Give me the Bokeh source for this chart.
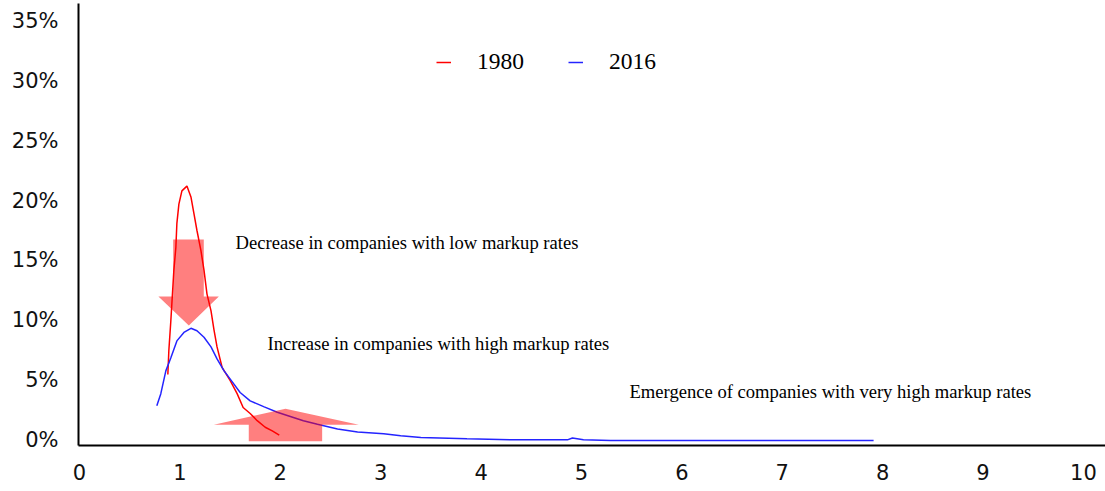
from bokeh.plotting import figure
from bokeh.models import Range1d, FixedTicker, PrintfTickFormatter, Legend, LegendItem
from bokeh.core.properties import value
from bokeh.embed import file_html
from bokeh.resources import INLINE

# ---- data (markup ratio vs share of companies, %) ----
x_1980 = [0.88, 0.89, 0.91, 0.92, 0.94, 0.96, 0.97, 0.99, 1.02, 1.07, 1.11, 1.14,
          1.17, 1.21, 1.24, 1.27, 1.31, 1.34, 1.37, 1.42, 1.50, 1.57, 1.63, 1.70,
          1.77, 1.85, 1.92, 1.99]
pct_1980 = [5.5, 7.5, 10.0, 11.4, 14.2, 16.1, 18.1, 19.7, 20.8, 21.2, 20.3, 18.9,
            17.5, 15.8, 14.2, 12.2, 10.8, 9.2, 7.8, 6.1, 5.0, 3.9, 2.75, 2.25,
            1.65, 1.1, 0.8, 0.45]

x_2016 = [0.77, 0.81, 0.86, 0.91, 0.97, 1.04, 1.11, 1.17, 1.24, 1.31, 1.37, 1.44,
          1.52, 1.60, 1.70, 1.84, 1.97, 2.10, 2.23, 2.37, 2.57, 2.77, 3.03, 3.20,
          3.40, 3.86, 4.36, 4.86, 4.91, 5.02, 5.29, 7.91]
pct_2016 = [2.9, 3.9, 5.8, 6.9, 8.3, 9.0, 9.35, 9.15, 8.6, 7.8, 6.8, 5.8,
            4.9, 4.0, 3.3, 2.8, 2.35, 2.0, 1.65, 1.35, 0.95, 0.7, 0.55, 0.4,
            0.25, 0.15, 0.05, 0.05, 0.2, 0.05, 0.0, 0.0]

x_ticks = [0, 1, 2, 3, 4, 5, 6, 7, 8, 9, 10]
y_ticks = [0, 5, 10, 15, 20, 25, 30, 35]
series_names = ["1980", "2016"]

notes = ["Decrease in companies with low markup rates",
         "Increase in companies with high markup rates",
         "Emergence of companies with very high markup rates"]
note_x = [1.555, 1.873, 5.478]
note_y = [16.5, 8.1, 4.05]

# arrows: shaft (x0, x1, y0, y1), head (base x0, base x1, base y, tip x, tip y)
down_shaft = (0.933, 1.238, 16.75, 12.0)
down_head = (0.786, 1.388, 12.0, 1.089, 9.58)
up_shaft = (1.686, 2.417, -0.06, 1.31)
up_head = (1.338, 2.782, 1.31, 2.052, 2.64)

p = figure(width=1105, height=491, output_backend="svg", toolbar_location=None,
           x_range=Range1d(-0.01, 10.22), y_range=Range1d(-0.42, 36.42),
           min_border=0, min_border_left=78, min_border_right=0,
           min_border_top=3, min_border_bottom=46)
p.outline_line_color = None
p.xgrid.visible = False
p.ygrid.visible = False
p.background_fill_color = "white"

for ax in (p.xaxis[0], p.yaxis[0]):
    ax.axis_line_color = "black"
    ax.axis_line_width = 2
    ax.major_tick_line_color = None
    ax.minor_tick_line_color = None
    ax.major_tick_out = 0
    ax.major_tick_in = 0
    ax.minor_tick_out = 0
    ax.minor_tick_in = 0
    ax.major_label_text_font = "DejaVu Sans"
    ax.major_label_text_font_size = "21px"
    ax.major_label_text_color = "#111111"

p.xaxis.ticker = FixedTicker(ticks=x_ticks)
p.yaxis.ticker = FixedTicker(ticks=y_ticks)
p.yaxis.formatter = PrintfTickFormatter(format="%d%%")
p.xaxis.major_label_standoff = 18
p.yaxis.major_label_standoff = 20

r80 = p.line(x_1980, pct_1980, line_color="#ff0000", line_width=1.5)
r16 = p.line(x_2016, pct_2016, line_color="#2424ff", line_width=1.5)


def arrow_poly(shaft, head):
    sx0, sx1, sy0, sy1 = shaft
    hx0, hx1, hy, tx, ty = head
    xs = [sx0, sx1, sx1, hx1, tx, hx0, sx0]
    ys = [sy0, sy0, sy1, hy, ty, hy, sy1]
    return xs, ys


for shaft, head in ((down_shaft, down_head), (up_shaft, up_head)):
    xs, ys = arrow_poly(shaft, head)
    p.patch(xs, ys, fill_color="#ff0000", fill_alpha=0.5, line_color=None)

p.text(x=note_x, y=note_y, text=notes, text_font=value("Liberation Serif"),
       text_font_size="18.6px", text_color="black", text_baseline="alphabetic",
       text_align="left")

legend = Legend(items=[LegendItem(label=series_names[0], renderers=[r80]),
                       LegendItem(label=series_names[1], renderers=[r16])],
                orientation="horizontal", location=(358, 370),
                label_text_font="Liberation Serif", label_text_font_size="23.5px",
                label_text_color="black",
                glyph_width=15, glyph_height=20, label_standoff=26, spacing=44,
                padding=0, margin=0, border_line_alpha=0, background_fill_alpha=0)
p.add_layout(legend, "center")

open("out.html", "w").write(file_html(p, INLINE))
